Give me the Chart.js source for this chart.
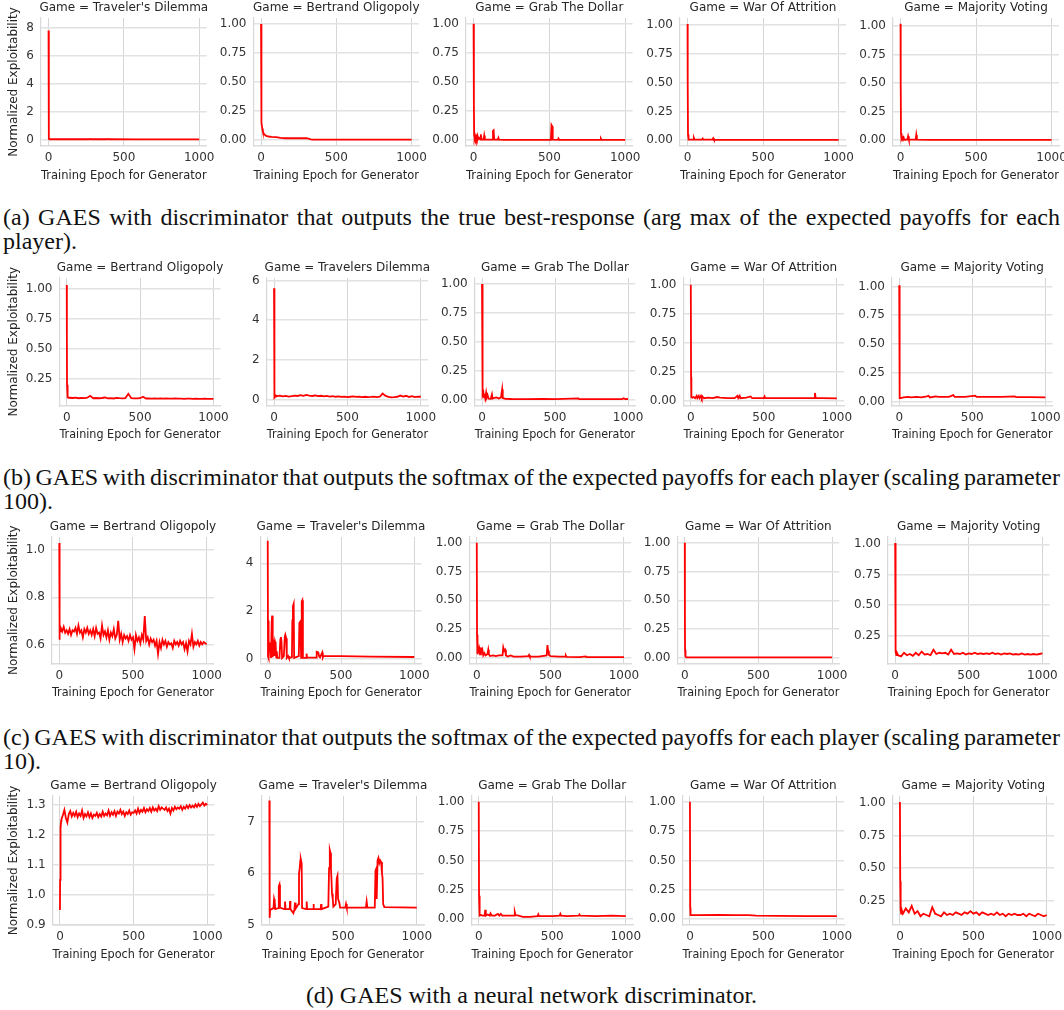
<!DOCTYPE html>
<html>
<head>
<meta charset="utf-8">
<script src="https://cdn.jsdelivr.net/npm/chart.js@4.4.1/dist/chart.umd.min.js"></script>
<style>
  html, body { margin: 0; padding: 0; background: #fff; }
  body { width: 1064px; height: 1010px; position: relative; overflow: hidden; }
  canvas { position: absolute; }
  .cap { position: absolute; left: 3px; width: 1057px; font-family: "Liberation Serif", "Times New Roman", serif;
         font-size: 24px; line-height: 24px; color: #111; }
  .cap .full { text-align: justify; text-align-last: justify; }
  .cap .tight { word-spacing: -2px; }
</style>
</head>
<body>

<div class="cap" style="top:205px">
  <div class="full">(a) GAES with discriminator that outputs the true best-response (arg max of the expected payoffs for each</div>
  <div>player).</div>
</div>
<div class="cap" style="top:465px">
  <div class="full tight">(b) GAES with discriminator that outputs the softmax of the expected payoffs for each player (scaling parameter</div>
  <div>100).</div>
</div>
<div class="cap" style="top:725px">
  <div class="full tight">(c) GAES with discriminator that outputs the softmax of the expected payoffs for each player (scaling parameter</div>
  <div>10).</div>
</div>
<div class="cap" style="top:983px; text-align:center;">(d) GAES with a neural network discriminator.</div>

<script>
// ---- data (epoch, normalized exploitability) ----
const xTicks = [0, 500, 1000];
const ticksTD8 = [0, 2, 4, 6, 8];
const ticksTD6 = [0, 2, 4, 6];
const ticksTD4 = [0, 2, 4];
const ticksTD7 = [5, 6, 7];
const ticksUnit = [0, 0.25, 0.5, 0.75, 1];
const ticksUnitHi = [0.25, 0.5, 0.75, 1];
const ticksBO10 = [0.6, 0.8, 1.0];
const ticksBO13 = [0.9, 1.0, 1.1, 1.2, 1.3];

// (a) true best-response
const a1Epoch = [0, 1, 3, 6, 20, 100, 275, 280, 285, 385, 390, 395, 600, 1000];
const a1Expl = [7.8, 4.5, 0.08, 0.05, 0.05, 0.05, 0.05, 0.07, 0.05, 0.05, 0.07, 0.05, 0.045, 0.045];

const a2Epoch = [0, 1, 2, 3, 5, 8, 12, 18, 25, 35, 50, 70, 100, 130, 160, 220, 300, 315, 330, 345, 500, 700, 1000];
const a2Expl = [1.0, 0.6, 0.17, 0.22, 0.15, 0.1, 0.075, 0.055, 0.045, 0.035, 0.03, 0.027, 0.024, 0.018, 0.015, 0.015, 0.015, 0.012, 0.006, 0.003, 0.003, 0.003, 0.003];

const a3Epoch = [0, 2, 4, 7, 10, 14, 18, 22, 26, 30, 36, 45, 48, 52, 58, 66, 70, 74, 85, 110, 125, 128, 132, 136, 160, 164, 168, 200, 340, 510, 514, 518, 522, 555, 560, 565, 620, 835, 840, 845, 1000];
const a3Expl = [1.0, 0.3, 0.04, 0.02, 0.035, 0.01, 0.03, 0.012, 0.035, 0.008, 0.02, 0.005, 0.05, 0.01, 0.005, 0.005, 0.04, 0.005, 0.004, 0.004, 0.006, 0.08, 0.085, 0.006, 0.005, 0.02, 0.004, 0.003, 0.003, 0.003, 0.13, 0.12, 0.004, 0.003, 0.015, 0.003, 0.003, 0.003, 0.015, 0.003, 0.003];

const a4Epoch = [0, 1, 3, 5, 8, 15, 38, 42, 46, 95, 100, 105, 165, 170, 175, 340, 1000];
const a4Expl = [1.01, 0.5, 0.05, 0.015, 0.005, 0.004, 0.004, 0.018, 0.004, 0.004, 0.015, 0.004, 0.004, 0.016, 0.003, 0.003, 0.003];

const a5Epoch = [0, 1, 3, 5, 8, 12, 16, 20, 24, 28, 45, 50, 55, 100, 104, 108, 200, 1000];
const a5Expl = [1.02, 0.5, 0.06, 0.02, 0.01, 0.025, 0.015, 0.025, 0.008, 0.005, 0.005, 0.035, 0.005, 0.005, 0.045, 0.004, 0.003, 0.003];

// (b) softmax, scaling 100
const b1Epoch = [0, 1, 2, 4, 8, 12];
const b1Expl = [1.03, 0.6, 0.2, 0.1, 0.095, 0.092];
const b1Tail = [0.092, 0.09, 0.093, 0.088, 0.091, 0.089, 0.092, 0.108, 0.088, 0.09,
  0.088, 0.09, 0.094, 0.087, 0.089, 0.086, 0.09, 0.088, 0.087, 0.089,
  0.125, 0.088, 0.087, 0.086, 0.088, 0.1, 0.086, 0.087, 0.085, 0.086,
  0.085, 0.087, 0.084, 0.086, 0.085, 0.084, 0.086, 0.084, 0.085, 0.083,
  0.084, 0.085, 0.083, 0.084, 0.082, 0.083, 0.084, 0.082, 0.083, 0.082];

const b2Epoch = [0, 1, 2, 3, 5, 8, 12];
const b2Expl = [5.6, 5.5, 0.05, 1.0, 0.1, 0.15, 0.2];
const b2Tail = [0.17, 0.2, 0.16, 0.18, 0.15, 0.17, 0.2, 0.18, 0.22, 0.19,
  0.23, 0.2, 0.18, 0.21, 0.17, 0.19, 0.16, 0.18, 0.15, 0.17,
  0.14, 0.16, 0.13, 0.15, 0.12, 0.14, 0.16, 0.13, 0.15, 0.12,
  0.14, 0.12, 0.13, 0.15, 0.12, 0.14, 0.3, 0.18, 0.13, 0.11,
  0.12, 0.14, 0.2, 0.15, 0.19, 0.13, 0.17, 0.12, 0.15, 0.14];

const b3Epoch = [0, 2, 4, 6, 10, 14, 18, 22, 28, 32, 38, 45, 60, 68, 72, 85, 100, 115, 130, 138, 142, 160, 200, 300, 420, 500, 660, 665, 960, 970, 980, 1000];
const b3Expl = [1.0, 0.3, 0.07, 0.04, 0.06, 0.02, 0.05, 0.015, 0.06, 0.02, 0.04, 0.01, 0.008, 0.045, 0.01, 0.015, 0.02, 0.01, 0.02, 0.09, 0.015, 0.008, 0.006, 0.005, 0.007, 0.005, 0.012, 0.005, 0.005, 0.012, 0.005, 0.006];

const b4Epoch = [0, 2, 4, 10, 20, 30, 40, 45, 55, 60, 70, 75, 80, 90, 120, 150, 180, 200, 250, 300, 320, 325, 335, 340, 380, 410, 420, 500, 505, 510, 600, 700, 800, 845, 850, 855, 900, 1000];
const b4Expl = [1.0, 0.2, 0.03, 0.025, 0.03, 0.02, 0.04, 0.02, 0.04, 0.02, 0.04, 0.02, 0.035, 0.02, 0.025, 0.02, 0.03, 0.025, 0.02, 0.02, 0.04, 0.02, 0.04, 0.02, 0.025, 0.035, 0.02, 0.02, 0.035, 0.02, 0.02, 0.02, 0.02, 0.02, 0.065, 0.02, 0.02, 0.018];

const b5Epoch = [0, 2, 4, 10, 30, 60, 80, 120, 150, 190, 200, 210, 250, 270, 300, 340, 370, 380, 450, 520, 530, 600, 700, 790, 800, 900, 1000];
const b5Expl = [1.01, 0.2, 0.03, 0.03, 0.035, 0.04, 0.035, 0.04, 0.035, 0.045, 0.05, 0.035, 0.045, 0.04, 0.04, 0.04, 0.055, 0.04, 0.04, 0.05, 0.04, 0.04, 0.04, 0.045, 0.038, 0.038, 0.035];

// (c) softmax, scaling 10
const c1Epoch = [0, 1, 2, 4, 7];
const c1Expl = [1.03, 0.62, 0.66, 0.68, 0.655];
const c1Tail = [0.67, 0.655, 0.675, 0.65, 0.66, 0.645, 0.665, 0.64, 0.66, 0.655,
  0.67, 0.645, 0.68, 0.65, 0.66, 0.63, 0.665, 0.65, 0.67, 0.645,
  0.66, 0.64, 0.665, 0.635, 0.67, 0.645, 0.65, 0.625, 0.68, 0.64,
  0.655, 0.63, 0.66, 0.62, 0.65, 0.635, 0.665, 0.625, 0.64, 0.70,
  0.62, 0.645, 0.61, 0.64, 0.625, 0.635, 0.615, 0.64, 0.62, 0.63,
  0.58, 0.64, 0.615, 0.63, 0.605, 0.64, 0.62, 0.72, 0.615, 0.63,
  0.6, 0.625, 0.61, 0.62, 0.595, 0.615, 0.56, 0.61, 0.585, 0.62,
  0.6, 0.615, 0.59, 0.61, 0.6, 0.605, 0.585, 0.615, 0.6, 0.61,
  0.595, 0.615, 0.6, 0.61, 0.58, 0.605, 0.57, 0.615, 0.6, 0.645,
  0.59, 0.61, 0.6, 0.615, 0.595, 0.61, 0.6, 0.61, 0.605, 0.6];

const c2Epoch = [0, 2, 4, 6, 8, 11, 15, 20, 22, 27, 30, 33, 35, 39, 43, 46, 50, 54, 58, 62, 65, 80, 86, 90, 94, 98, 110, 116, 120, 126, 130, 140, 145, 165, 168, 172, 177, 180, 212, 216, 222, 228, 232, 236, 240, 262, 265, 268, 330, 334, 345, 350, 357, 372, 376, 380, 500, 700, 1000];
const c2Expl = [4.95, 0.1, 1.6, 1.55, 0.02, 0.6, 0.5, 0.6, 0.02, 1.5, 1.8, 1.75, 0.05, 0.75, 0.7, 0.1, 0.7, 0.6, 0.05, 0.3, 0.02, 0.02, 0.8, 0.9, 0.7, 0.02, 0.1, 0.9, 1.0, 0.85, 0.02, 0.1, 0.02, 0.05, 1.6, 2.2, 2.3, 0.02, 0.1, 1.5, 1.55, 0.02, 2.4, 2.45, 0.02, 0.02, 0.2, 0.03, 0.03, 0.28, 0.25, 0.1, 0.05, 0.25, 0.05, 0.11, 0.1, 0.08, 0.06];

const c3Epoch = [0, 2, 4, 6, 10, 14, 18, 22, 28, 32, 38, 44, 52, 60, 72, 78, 82, 90, 110, 130, 150, 175, 180, 186, 192, 198, 210, 230, 250, 300, 350, 355, 360, 420, 475, 480, 485, 490, 500, 560, 600, 605, 610, 700, 740, 745, 800, 1000];
const c3Expl = [1.0, 0.2, 0.06, 0.03, 0.08, 0.04, 0.07, 0.03, 0.09, 0.05, 0.07, 0.02, 0.04, 0.02, 0.03, 0.07, 0.03, 0.015, 0.02, 0.015, 0.02, 0.02, 0.09, 0.06, 0.07, 0.02, 0.01, 0.02, 0.01, 0.01, 0.015, 0.025, 0.01, 0.01, 0.02, 0.11, 0.06, 0.025, 0.015, 0.01, 0.01, 0.02, 0.008, 0.006, 0.012, 0.005, 0.005, 0.005];

const c4Epoch = [0, 1, 2, 4, 6, 10, 100, 1000];
const c4Expl = [1.0, 0.3, 0.07, 0.05, 0.01, 0.004, 0.003, 0.003];

const c5Epoch = [0, 2, 4, 8, 12];
const c5Expl = [1.01, 0.3, 0.12, 0.09, 0.11];
const c5Tail = [0.09, 0.08, 0.11, 0.09, 0.1, 0.085, 0.11, 0.09, 0.12, 0.095,
  0.1, 0.09, 0.135, 0.1, 0.11, 0.105, 0.11, 0.095, 0.135, 0.1,
  0.105, 0.1, 0.11, 0.095, 0.105, 0.1, 0.11, 0.1, 0.105, 0.1,
  0.105, 0.1, 0.11, 0.1, 0.105, 0.095, 0.105, 0.1, 0.105, 0.095,
  0.1, 0.095, 0.105, 0.095, 0.1, 0.095, 0.1, 0.095, 0.1, 0.105];

// (d) neural network discriminator
const d1Epoch = [0, 1, 2, 4, 6, 8];
const d1Expl = [0.95, 1.05, 1.18, 1.23, 1.22, 1.245];
const d1Tail = [1.25, 1.265, 1.282, 1.255, 1.24, 1.268, 1.278, 1.26, 1.272, 1.262,
  1.276, 1.258, 1.27, 1.262, 1.28, 1.255, 1.268, 1.26, 1.274, 1.258,
  1.27, 1.255, 1.266, 1.262, 1.272, 1.258, 1.268, 1.26, 1.276, 1.262,
  1.27, 1.264, 1.28, 1.262, 1.274, 1.266, 1.278, 1.262, 1.276, 1.27,
  1.282, 1.268, 1.276, 1.262, 1.274, 1.268, 1.28, 1.266, 1.274, 1.272,
  1.28, 1.27, 1.286, 1.272, 1.282, 1.276, 1.288, 1.274, 1.284, 1.278,
  1.288, 1.276, 1.29, 1.28, 1.286, 1.278, 1.294, 1.282, 1.29, 1.286,
  1.282, 1.29, 1.278, 1.286, 1.27, 1.288, 1.28, 1.292, 1.284, 1.29,
  1.286, 1.294, 1.282, 1.292, 1.286, 1.296, 1.288, 1.298, 1.29, 1.296,
  1.29, 1.3, 1.292, 1.302, 1.294, 1.3, 1.306, 1.296, 1.302, 1.298];

const d2Epoch = [0, 2, 5, 15, 28, 32, 36, 40, 60, 64, 68, 72, 100, 106, 110, 138, 140, 143, 163, 170, 174, 178, 198, 201, 206, 210, 213, 219, 222, 250, 253, 256, 296, 299, 302, 348, 351, 354, 400, 405, 410, 414, 418, 421, 425, 430, 434, 450, 457, 462, 466, 475, 480, 515, 520, 525, 655, 660, 665, 715, 720, 724, 728, 734, 740, 746, 752, 758, 764, 768, 772, 780, 1000];
const d2Expl = [7.42, 5.13, 5.28, 5.3, 5.32, 5.5, 5.45, 5.3, 5.32, 5.75, 5.78, 5.33, 5.3, 5.45, 5.3, 5.3, 5.46, 5.3, 5.22, 5.3, 5.43, 5.31, 5.4, 6.0, 6.1, 6.25, 6.28, 6.2, 5.32, 5.3, 5.45, 5.3, 5.3, 5.4, 5.3, 5.3, 5.4, 5.3, 5.35, 6.1, 6.45, 6.4, 6.1, 5.9, 5.6, 5.5, 5.35, 5.4, 5.9, 5.95, 5.5, 5.42, 5.33, 5.33, 5.4, 5.33, 5.33, 5.45, 5.33, 5.33, 6.05, 6.08, 5.5, 6.25, 6.3, 6.2, 6.25, 6.22, 6.0, 5.9, 5.4, 5.34, 5.33];

const d3Epoch = [0, 2, 4, 8, 15, 25, 40, 44, 48, 60, 75, 80, 90, 110, 130, 140, 150, 160, 200, 240, 245, 250, 270, 300, 350, 400, 405, 410, 450, 500, 550, 555, 560, 600, 680, 685, 690, 800, 900, 1000];
const d3Expl = [1.0, 0.2, 0.04, 0.03, 0.035, 0.03, 0.03, 0.08, 0.03, 0.04, 0.03, 0.05, 0.03, 0.03, 0.045, 0.03, 0.045, 0.03, 0.03, 0.03, 0.06, 0.035, 0.03, 0.02, 0.02, 0.025, 0.04, 0.025, 0.025, 0.025, 0.03, 0.045, 0.03, 0.025, 0.03, 0.04, 0.03, 0.025, 0.03, 0.025];

const d4Epoch = [0, 2, 4, 50, 200, 300, 400, 450, 600, 800, 1000];
const d4Expl = [1.0, 0.1, 0.035, 0.035, 0.037, 0.035, 0.035, 0.03, 0.028, 0.025, 0.025];

const d5Epoch = [0, 2, 4, 6, 8, 12];
const d5Expl = [1.01, 0.4, 0.17, 0.2, 0.15, 0.18];
const d5Tail = [0.15, 0.19, 0.16, 0.21, 0.15, 0.17, 0.13, 0.15, 0.14, 0.13,
  0.2, 0.15, 0.14, 0.13, 0.16, 0.14, 0.15, 0.14, 0.16, 0.15,
  0.14, 0.16, 0.15, 0.17, 0.15, 0.16, 0.14, 0.16, 0.15, 0.14,
  0.15, 0.14, 0.16, 0.14, 0.15, 0.13, 0.15, 0.14, 0.15, 0.14,
  0.14, 0.15, 0.13, 0.15, 0.14, 0.13, 0.15, 0.14, 0.13, 0.14];

// ---- helpers ----
function pts(xs, ys) {
  return xs.map((x, i) => ({ x: x, y: ys[i] }));
}
// tail values sampled every `step` epochs starting at `start`
function withTail(xs, ys, tail, start, step) {
  return pts(xs, ys).concat(tail.map((y, i) => ({ x: start + i * step, y: y })));
}

const RED = '#ff0000';
const X_LABEL = 'Training Epoch for Generator';
const Y_LABEL = 'Normalized Exploitability';
const XH = 37;
const Y_TITLE_X = 13.8; // page x of the rotated y-axis label

Chart.defaults.font.family = '"DejaVu Sans", sans-serif';
Chart.defaults.font.size = 12;
Chart.defaults.color = '#333';

// facet title above each plot, plus the y label on the first column
const panelTitle = {
  id: 'panelTitle',
  afterDraw(chart, args, opts) {
    const { ctx, chartArea } = chart;
    ctx.save();
    ctx.font = '12px "DejaVu Sans", sans-serif';
    ctx.fillStyle = '#262626';
    ctx.textAlign = 'center';
    ctx.textBaseline = 'middle';
    ctx.fillText(opts.text, (chartArea.left + chartArea.right) / 2, chartArea.top - 10);
    if (opts.yTitleX != null) {
      ctx.translate(opts.yTitleX, (chartArea.top + chartArea.bottom) / 2);
      ctx.rotate(-Math.PI / 2);
      ctx.fillText(Y_LABEL, 0, 0);
    }
    ctx.restore();
  }
};

const TD = "Game = Traveler's Dilemma";
const BO = 'Game = Bertrand Oligopoly';
const GD = 'Game = Grab The Dollar';
const WA = 'Game = War Of Attrition';
const MV = 'Game = Majority Voting';

// box = [left, top, right, bottom] of each plot area
const panels = [
  { title: TD, box: [41, 18, 206.6, 146], y: [-0.43, 8.69], ticks: ticksTD8, dec: 0, ylab: true, data: pts(a1Epoch, a1Expl) },
  { title: BO, box: [253.5, 18, 419, 146], y: [-0.052, 1.052], ticks: ticksUnit, dec: 2, data: pts(a2Epoch, a2Expl) },
  { title: GD, box: [466, 18, 632.6, 146], y: [-0.05, 1.05], ticks: ticksUnit, dec: 2, data: pts(a3Epoch, a3Expl) },
  { title: WA, box: [680, 18, 846, 146], y: [-0.051, 1.062], ticks: ticksUnit, dec: 2, data: pts(a4Epoch, a4Expl) },
  { title: MV, box: [893, 18, 1059, 146], y: [-0.051, 1.07], ticks: ticksUnit, dec: 2, data: pts(a5Epoch, a5Expl) },

  { title: BO, box: [59.4, 278, 220.6, 405.5], y: [0.0275, 1.088], ticks: ticksUnitHi, dec: 2, ylab: true, data: withTail(b1Epoch, b1Expl, b1Tail, 20, 20) },
  { title: 'Game = Travelers Dilemma', box: [266.7, 278, 428, 405.5], y: [-0.3, 6.12], ticks: ticksTD6, dec: 0, data: withTail(b2Epoch, b2Expl, b2Tail, 20, 20) },
  { title: GD, box: [474.7, 278, 635.2, 405.5], y: [-0.05, 1.052], ticks: ticksUnit, dec: 2, data: pts(b3Epoch, b3Expl) },
  { title: WA, box: [683.5, 278, 844, 405.5], y: [-0.043, 1.058], ticks: ticksUnit, dec: 2, data: pts(b4Epoch, b4Expl) },
  { title: MV, box: [891.9, 278, 1052.5, 405.5], y: [-0.035, 1.073], ticks: ticksUnit, dec: 2, data: pts(b5Epoch, b5Expl) },

  { title: BO, box: [51.9, 537, 213.9, 663.5], y: [0.519, 1.056], ticks: ticksBO10, dec: 1, ylab: true, data: withTail(c1Epoch, c1Expl, c1Tail, 10, 10) },
  { title: TD, box: [260.4, 537, 421.5, 663.5], y: [-0.213, 5.106], ticks: ticksTD4, dec: 0, data: pts(c2Epoch, c2Expl) },
  { title: GD, box: [469.4, 537, 631.2, 663.5], y: [-0.05, 1.05], ticks: ticksUnit, dec: 2, data: pts(c3Epoch, c3Expl) },
  { title: WA, box: [677.4, 537, 839.3, 663.5], y: [-0.05, 1.05], ticks: ticksUnit, dec: 2, data: pts(c4Epoch, c4Expl) },
  { title: MV, box: [887.8, 537, 1049.6, 663.5], y: [0.022, 1.06], ticks: ticksUnitHi, dec: 2, data: withTail(c5Epoch, c5Expl, c5Tail, 20, 20) },

  { title: BO, box: [52.6, 796, 214.5, 925], y: [0.9, 1.328], ticks: ticksBO13, dec: 1, ylab: true, data: withTail(d1Epoch, d1Expl, d1Tail, 10, 10) },
  { title: TD, box: [262, 796, 424, 925], y: [4.99, 7.51], ticks: ticksTD7, dec: 0, data: pts(d2Epoch, d2Expl) },
  { title: GD, box: [471.4, 796, 633, 925], y: [-0.05, 1.05], ticks: ticksUnit, dec: 2, data: pts(d3Epoch, d3Expl) },
  { title: WA, box: [682.6, 796, 844, 925], y: [-0.05, 1.05], ticks: ticksUnit, dec: 2, data: pts(d4Epoch, d4Expl) },
  { title: MV, box: [892.6, 796, 1054, 925], y: [0.063, 1.056], ticks: ticksUnitHi, dec: 2, data: withTail(d5Epoch, d5Expl, d5Tail, 20, 20) }
];

function makePanel(p) {
  const [l, t, r, b] = p.box;
  const cl = p.ylab ? 0 : Math.round(l - 44);
  const ct = Math.round(t - (p.ylab ? 34 : 20));
  const yw = l - cl;
  const pt = t - ct;
  const w = Math.ceil(yw + (r - l) + 20);
  const h = Math.ceil(pt + (b - t) + XH + (p.ylab ? 14 : 0));

  const cv = document.createElement('canvas');
  cv.width = w;
  cv.height = h;
  cv.style.left = cl + 'px';
  cv.style.top = ct + 'px';
  cv.style.width = w + 'px';
  cv.style.height = h + 'px';
  document.body.appendChild(cv);

  new Chart(cv, {
    type: 'line',
    data: {
      datasets: [{
        data: p.data,
        borderColor: RED,
        borderWidth: 1.8,
        pointRadius: 0,
        tension: 0,
        fill: false
      }]
    },
    options: {
      responsive: false,
      animation: false,
      events: [],
      layout: { padding: { left: 0, top: pt, right: w - yw - (r - l), bottom: h - pt - (b - t) - XH } },
      plugins: {
        legend: { display: false },
        tooltip: { enabled: false },
        panelTitle: { text: p.title, yTitleX: p.ylab ? Y_TITLE_X - cl : null }
      },
      scales: {
        x: {
          type: 'linear',
          min: -50,
          max: 1049,
          afterBuildTicks: ax => { ax.ticks = xTicks.map(v => ({ value: v })); },
          afterFit: ax => { ax.height = XH; },
          grid: { color: '#d6d6d6', lineWidth: 1, drawTicks: false },
          border: { display: true, color: '#dcdcdc', width: 1.4 },
          ticks: { padding: 5, maxRotation: 0, autoSkip: false, color: '#333', callback: v => String(v) },
          title: { display: true, text: X_LABEL, padding: 0, color: '#262626' }
        },
        y: {
          min: p.y[0],
          max: p.y[1],
          afterBuildTicks: ax => { ax.ticks = p.ticks.map(v => ({ value: v })); },
          afterFit: ax => { ax.width = yw; },
          grid: { color: '#e2e2e2', lineWidth: 1.5, drawTicks: false },
          border: { display: true, color: '#d8d8d8', width: 1.2 },
          ticks: { padding: 7, autoSkip: false, color: '#333', callback: v => Number(v).toFixed(p.dec) }
        }
      }
    },
    plugins: [panelTitle]
  });
}

panels.forEach(makePanel);
</script>
</body>
</html>
